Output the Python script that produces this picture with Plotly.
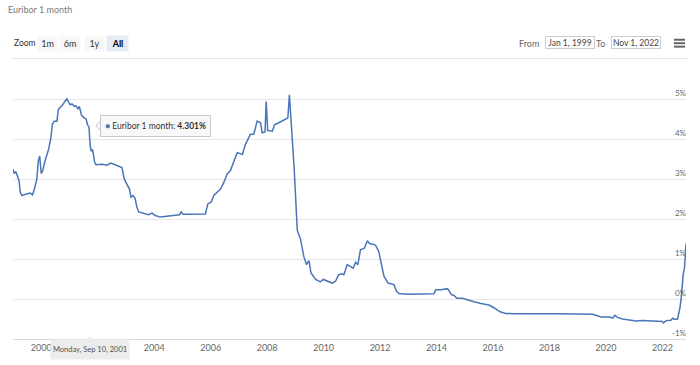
import plotly.graph_objects as go

# ---------------- data ----------------
dates = [
    "1999-01-01", "1999-01-15", "1999-02-06", "1999-03-01", "1999-03-20", "1999-04-05",
    "1999-04-25", "1999-06-25", "1999-08-10", "1999-09-10", "1999-10-05", "1999-11-05",
    "1999-11-25", "1999-12-12", "2000-01-01", "2000-01-20", "2000-02-20", "2000-04-05",
    "2000-05-05", "2000-05-25", "2000-06-18", "2000-07-22", "2000-08-10", "2000-09-01",
    "2000-10-05", "2000-10-30", "2000-11-28", "2000-12-20", "2001-01-10", "2001-02-02",
    "2001-03-03", "2001-03-25", "2001-04-20", "2001-05-08", "2001-06-03", "2001-07-01",
    "2001-08-03", "2001-08-22", "2001-09-10", "2001-09-25", "2001-10-08", "2001-10-27",
    "2001-11-22", "2001-12-10", "2002-02-25", "2002-05-01", "2002-06-15", "2002-08-15",
    "2002-10-20", "2002-11-10", "2002-12-10", "2003-01-15", "2003-02-15", "2003-03-08",
    "2003-04-01", "2003-04-30", "2003-05-22", "2003-06-15", "2003-08-20", "2003-10-20",
    "2003-12-05", "2004-01-15", "2004-03-20", "2004-05-25", "2004-09-10", "2004-11-25",
    "2004-12-15", "2005-01-08", "2005-04-10", "2005-10-25", "2005-11-25", "2006-01-08",
    "2006-02-10", "2006-03-25", "2006-05-08", "2006-06-20", "2006-08-03", "2006-09-12",
    "2006-10-27", "2006-12-10", "2007-02-15", "2007-03-27", "2007-05-30", "2007-07-12",
    "2007-08-25", "2007-10-08", "2007-10-30", "2007-12-05", "2007-12-20", "2008-01-08",
    "2008-03-08", "2008-04-05", "2008-05-30", "2008-08-05", "2008-09-25", "2008-10-15",
    "2008-11-05", "2008-12-15", "2009-01-25", "2009-03-08", "2009-04-20", "2009-05-25",
    "2009-06-25", "2009-07-22", "2009-09-20", "2009-11-20", "2009-12-28", "2010-02-18",
    "2010-04-22", "2010-06-05", "2010-07-15", "2010-08-28", "2010-09-20", "2010-11-02",
    "2010-12-15", "2011-01-18", "2011-02-18", "2011-03-20", "2011-04-22", "2011-06-12",
    "2011-07-20", "2011-08-18", "2011-09-25", "2011-11-02", "2011-12-15", "2012-01-08",
    "2012-02-20", "2012-04-12", "2012-06-28", "2012-07-30", "2012-09-02", "2012-12-20",
    "2013-06-10", "2013-11-28", "2013-12-20", "2014-02-25", "2014-05-22", "2014-06-10",
    "2014-07-12", "2014-08-15", "2014-09-20", "2014-12-01", "2015-02-02", "2015-05-01",
    "2015-07-28", "2015-11-10", "2016-01-22", "2016-04-01", "2016-06-12", "2016-10-01",
    "2018-05-01", "2019-05-28", "2019-07-12", "2019-09-12", "2019-10-27", "2020-02-15",
    "2020-03-28", "2020-04-25", "2020-05-28", "2020-08-03", "2020-10-25", "2021-01-22",
    "2021-04-20", "2021-10-08", "2021-12-28", "2022-01-12", "2022-02-18", "2022-04-20",
    "2022-05-12", "2022-06-12", "2022-07-15", "2022-08-15", "2022-09-05", "2022-09-25",
    "2022-10-12", "2022-10-22", "2022-11-01",
]
euribor_1m = [
    3.25, 3.14, 3.19, 3.08, 2.96, 2.67,
    2.59, 2.63, 2.65, 2.61, 2.75, 3.00,
    3.46, 3.58, 3.14, 3.21, 3.46, 3.74,
    4.03, 4.38, 4.45, 4.45, 4.74, 4.79,
    4.86, 4.94, 5.01, 4.93, 4.86, 4.88,
    4.82, 4.84, 4.76, 4.82, 4.61, 4.54,
    4.51, 4.36, 4.301, 3.83, 3.70, 3.74,
    3.42, 3.36, 3.37, 3.35, 3.40, 3.36,
    3.31, 3.29, 3.00, 2.88, 2.75, 2.55,
    2.59, 2.52, 2.30, 2.18, 2.15, 2.11,
    2.15, 2.09, 2.05, 2.07, 2.09, 2.11,
    2.18, 2.12, 2.12, 2.13, 2.38, 2.43,
    2.59, 2.67, 2.75, 2.92, 3.13, 3.21,
    3.42, 3.66, 3.62, 3.87, 4.12, 4.12,
    4.45, 4.41, 4.16, 4.18, 4.94, 4.22,
    4.20, 4.36, 4.41, 4.49, 4.53, 5.11,
    4.53, 3.29, 1.72, 1.50, 1.06, 0.86,
    0.96, 0.65, 0.49, 0.43, 0.49, 0.45,
    0.40, 0.45, 0.61, 0.63, 0.61, 0.86,
    0.82, 0.77, 0.92, 0.86, 1.23, 1.27,
    1.46, 1.39, 1.37, 1.35, 1.19, 0.94,
    0.57, 0.40, 0.36, 0.20, 0.14, 0.12,
    0.12, 0.13, 0.23, 0.23, 0.26, 0.21,
    0.11, 0.09, 0.02, 0.02, -0.02, -0.07,
    -0.11, -0.15, -0.23, -0.32, -0.36, -0.37,
    -0.37, -0.37, -0.38, -0.42, -0.45, -0.45,
    -0.48, -0.41, -0.46, -0.50, -0.52, -0.55,
    -0.54, -0.55, -0.56, -0.60, -0.54, -0.53,
    -0.48, -0.51, -0.50, -0.22, 0.11, 0.61,
    0.77, 1.06, 1.39,
]
series_name = "Euribor 1 month"
x_tick_years = ["2000", "2002", "2004", "2006", "2008", "2010", "2012",
                "2014", "2016", "2018", "2020", "2022"]
hidden_tick_year = "2002"   # covered by the crosshair date label in the original
y_tick_values = [-1, 0, 1, 2, 3, 4, 5]
range_buttons = ["1m", "6m", "1y", "All"]
from_date_label = "Jan 1, 1999"
to_date_label = "Nov 1, 2022"
tooltip_value = "4.301%"
tooltip_date = "Monday, Sep 10, 2001"

# ---------------- layout helpers ----------------
W, H = 700, 365
ML, MR, MT, MB = 13, 14, 62, 23
PW, PH = W - ML - MR, H - MT - MB
LINE = "#4a76b8"
FONT = "Lato, 'Open Sans', Arial, sans-serif"


def xp(px):
    return (px - ML) / PW


def yp(py):
    return (H - MB - py) / PH


fig = go.Figure()
fig.add_trace(go.Scatter(
    x=dates, y=euribor_1m, mode="lines", name=series_name,
    line=dict(color=LINE, width=1.5), hoverinfo="skip",
))

annotations = []
shapes = []

# title
annotations.append(dict(text=series_name, x=xp(6), y=yp(9), xref="paper", yref="paper",
                        xanchor="left", yanchor="middle", showarrow=False,
                        font=dict(size=9, color="#7b7b7b", family=FONT)))
# zoom label
annotations.append(dict(text="Zoom", x=xp(11.5), y=yp(43), xref="paper", yref="paper",
                        xanchor="left", yanchor="middle", showarrow=False,
                        font=dict(size=8.5, color="#333333", family=FONT)))
btn_centers = [47, 70, 94, 117.5]
btn_widths = [19, 20, 19, 21]
for lab, cx, bw in zip(range_buttons, btn_centers, btn_widths):
    sel = lab == "All"
    annotations.append(dict(
        text=("<b>%s</b>" % lab) if sel else lab, x=xp(cx), y=yp(43),
        xref="paper", yref="paper", xanchor="center", yanchor="middle",
        showarrow=False, width=bw, height=15, borderpad=0,
        bgcolor="#e6ebf5" if sel else "#f7f7f7",
        font=dict(size=9, color="#000000" if sel else "#333333", family=FONT)))

# From / To
annotations.append(dict(text="From", x=xp(541), y=yp(43), xref="paper", yref="paper",
                        xanchor="right", yanchor="middle", showarrow=False,
                        font=dict(size=9, color="#666666", family=FONT)))
annotations.append(dict(text=from_date_label, x=xp(570), y=yp(42.5), xref="paper", yref="paper",
                        xanchor="center", yanchor="middle", showarrow=False,
                        width=48, height=11, borderpad=0, bordercolor="#cccccc", borderwidth=1,
                        font=dict(size=8.5, color="#444444", family=FONT)))
annotations.append(dict(text="To", x=xp(607), y=yp(43), xref="paper", yref="paper",
                        xanchor="right", yanchor="middle", showarrow=False,
                        font=dict(size=9, color="#666666", family=FONT)))
annotations.append(dict(text=to_date_label, x=xp(636), y=yp(42.5), xref="paper", yref="paper",
                        xanchor="center", yanchor="middle", showarrow=False,
                        width=48, height=11, borderpad=0, bordercolor="#cccccc", borderwidth=1,
                        font=dict(size=8.5, color="#444444", family=FONT)))

# hamburger icon
for yy in (39.5, 43, 46.5):
    shapes.append(dict(type="line", xref="paper", yref="paper",
                       x0=xp(674), x1=xp(685), y0=yp(yy), y1=yp(yy),
                       line=dict(color="#666666", width=2)))
# separator line
shapes.append(dict(type="line", xref="paper", yref="paper",
                   x0=xp(12), x1=xp(688), y0=yp(58.5), y1=yp(58.5),
                   line=dict(color="#e3e3e3", width=1)))

# tooltip box
shapes.append(dict(type="path", xref="paper", yref="paper",
                   path="M %f %f L %f %f L %f %f Z" % (xp(100.5), yp(121.5), xp(96), yp(126.5),
                                                      xp(100.5), yp(131.5)),
                   fillcolor="#f7f7f7", line=dict(color="#c4cad4", width=1)))
annotations.append(dict(
    text="<span style='color:%s'>●</span> %s: <b>%s</b>" % (LINE, series_name, tooltip_value),
    x=xp(155.5), y=yp(126.5), xref="paper", yref="paper", xanchor="center", yanchor="middle",
    showarrow=False, width=109, height=20, borderpad=0,
    bgcolor="rgba(248,248,248,0.95)", bordercolor="#c4cad4", borderwidth=1,
    font=dict(size=8.5, color="#333333", family=FONT)))

# date label at bottom
shapes.append(dict(type="path", xref="paper", yref="paper",
                   path="M %f %f L %f %f L %f %f Z" % (xp(86), yp(343), xp(90), yp(339),
                                                      xp(94), yp(343)),
                   fillcolor="#ececec", line=dict(color="#ececec", width=0)))
annotations.append(dict(
    text=tooltip_date, x=xp(90), y=yp(352.5), xref="paper", yref="paper",
    xanchor="center", yanchor="middle", showarrow=False, width=78, height=19, borderpad=0,
    bgcolor="#ececec", font=dict(size=7.5, color="#555555", family=FONT)))

y_max = -1 + PH / 40.4

fig.update_layout(
    width=W, height=H, margin=dict(l=ML, r=MR, t=MT, b=MB),
    paper_bgcolor="white", plot_bgcolor="white", showlegend=False,
    font=dict(family=FONT),
    annotations=annotations, shapes=shapes,
    xaxis=dict(
        type="date", range=["1999-01-01", "2022-11-01"],
        tickvals=["%s-01-01" % y for y in x_tick_years],
        ticktext=["" if y == hidden_tick_year else y for y in x_tick_years],
        showgrid=False, showline=True, linecolor="#d9d9d9", linewidth=1,
        ticks="", tickfont=dict(size=9, color="#666666", family=FONT),
        zeroline=False, fixedrange=True,
    ),
    yaxis=dict(
        range=[-1, y_max], side="right", tickvals=y_tick_values,
        ticktext=["%d%%" % v for v in y_tick_values],
        ticklabelposition="inside top", ticklabelstandoff=-3,
        showgrid=True, gridcolor="#e6e6e6", gridwidth=1, zeroline=False,
        ticks="", tickfont=dict(size=8, color="#666666", family=FONT), fixedrange=True,
    ),
)

fig.write_html("out.html", config={"displayModeBar": False},
               post_script="document.body.style.margin='0';document.body.style.padding='0';")
